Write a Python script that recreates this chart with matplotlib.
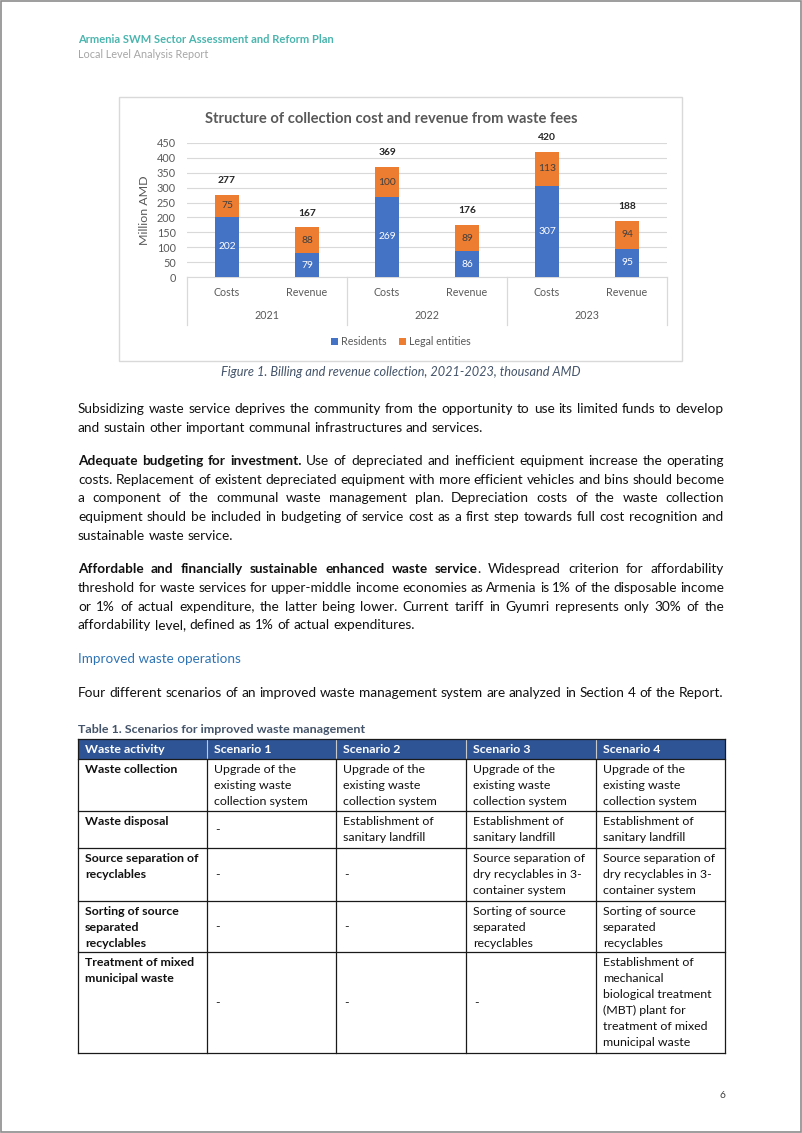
import numpy as np
import matplotlib
matplotlib.use('Agg')
import matplotlib.pyplot as plt
from matplotlib.patches import Rectangle

W, H = 802, 1133
plt.rcParams['font.family'] = ['Lato', 'DejaVu Sans']

# chart data
years = ['2021', '2022', '2023']
kinds = ['Costs', 'Revenue']
residents = [202, 79, 269, 86, 307, 95]
legal = [75, 88, 100, 89, 113, 94]
totals = [277, 167, 369, 176, 420, 188]
yticks = list(range(0, 451, 50))
chart_title = 'Structure of collection cost and revenue from waste fees'

# page text ("**" toggles bold)
header1 = 'Armenia SWM Sector Assessment and Reform Plan'
header2 = 'Local Level Analysis Report'
caption = 'Figure 1. Billing and revenue collection, 2021-2023, thousand AMD'
para1 = ['Subsidizing waste service deprives the community from the opportunity to use its limited funds to develop',
         'and sustain other important communal infrastructures and services.']
para2 = ['**Adequate budgeting for investment.** Use of depreciated and inefficient equipment increase the operating',
         'costs. Replacement of existent depreciated equipment with more efficient vehicles and bins should become',
         'a component of the communal waste management plan. Depreciation costs of the waste collection',
         'equipment should be included in budgeting of service cost as a first step towards full cost recognition and',
         'sustainable waste service.']
para3 = ['**Affordable and financially sustainable enhanced waste service**. Widespread criterion for affordability',
         'threshold for waste services for upper-middle income economies as Armenia is 1% of the disposable income',
         'or 1% of actual expenditure, the latter being lower. Current tariff in Gyumri represents only 30% of the',
         'affordability level, defined as 1% of actual expenditures.']
subhead = 'Improved waste operations'
intro = 'Four different scenarios of an improved waste management system are analyzed in Section 4 of the Report.'
table_title = 'Table 1. Scenarios for improved waste management'
table_head = ['Waste activity', 'Scenario 1', 'Scenario 2', 'Scenario 3', 'Scenario 4']
upgrade = ['Upgrade of the', 'existing waste', 'collection system']
landfill = ['Establishment of', 'sanitary landfill']
table_rows = [
    [['Waste collection'], upgrade, upgrade, upgrade, upgrade],
    [['Waste disposal'], ['-'], landfill, landfill, landfill],
    [['Source separation of', 'recyclables'], ['-'], ['-'],
     ['Source separation of', 'dry recyclables in 3-', 'container system'],
     ['Source separation of', 'dry recyclables in 3-', 'container system']],
    [['Sorting of source', 'separated', 'recyclables'], ['-'], ['-'],
     ['Sorting of source', 'separated', 'recyclables'],
     ['Sorting of source', 'separated', 'recyclables']],
    [['Treatment of mixed', 'municipal waste'], ['-'], ['-'], ['-'],
     ['Establishment of', 'mechanical', 'biological treatment', '(MBT) plant for',
      'treatment of mixed', 'municipal waste']],
]

fig = plt.figure(figsize=(W / 100, H / 100), dpi=100)
page = fig.add_axes([0, 0, 1, 1])
page.set_xlim(0, W)
page.set_ylim(H, 0)
page.axis('off')
renderer = fig.canvas.get_renderer()


def text_w(s, size, weight='normal', style='normal'):
    t = page.text(0, 0, s, fontsize=size, fontweight=weight, fontstyle=style)
    w = t.get_window_extent(renderer).width
    t.remove()
    return w


def fit(s, px, weight='normal', style='normal'):
    return 10 * px / text_w(s, 10, weight, style)


def parse(line):
    words, bold = [], False
    for word in line.split(' '):
        segs = []
        for i, p in enumerate(word.split('**')):
            if i > 0:
                bold = not bold
            if p:
                segs.append((p, bold))
        words.append(segs)
    return words


def draw_line(line, x0, x1, y, size, justify, color='#111111'):
    words = parse(line)
    widths = [[text_w(s, size, 'bold' if b else 'normal') for s, b in w] for w in words]
    space = text_w('x x', size) - text_w('xx', size)
    total = sum(sum(w) for w in widths)
    gap = space
    if justify and len(words) > 1:
        gap = max((x1 - x0 - total) / (len(words) - 1), 0.6 * space)
    x = x0
    for w, ws in zip(words, widths):
        for (s, b), sw in zip(w, ws):
            page.text(x, y, s, fontsize=size, fontweight='bold' if b else 'normal',
                      color=color, va='baseline', ha='left')
            x += sw
        x += gap


# page border and header
page.add_patch(Rectangle((1, 1), W - 2, H - 2, fill=False, ec='#8C8C8C', lw=1.2))
page.text(78, 43, header1, fontsize=fit(header1, 254, 'bold'), fontweight='bold',
          color='#4AB5AE', va='baseline')
page.text(78, 58, header2, fontsize=fit(header2, 130), color='#A6A6A6', va='baseline')

# chart
page.add_patch(Rectangle((119, 97), 563, 264, fill=False, ec='#D9D9D9', lw=1))
page.text(391.5, 123, chart_title, fontsize=fit(chart_title, 375, 'bold'), fontweight='bold',
          color='#595959', ha='center', va='baseline')

tick_size = fit('Revenue', 41)
ytick_size = fit('450', 19)
num_size = fit('202', 18)
ax = fig.add_axes([187 / W, 1 - 277 / H, 480 / W, 134 / H])
x = np.arange(len(residents))
ax.bar(x, residents, 0.31, color='#4472C4', label='Residents', zorder=3)
ax.bar(x, legal, 0.31, bottom=residents, color='#ED7D31', label='Legal entities', zorder=3)
ax.set_xlim(-0.5, 5.5)
ax.set_ylim(0, 450)
ax.set_yticks(yticks)
ax.grid(axis='y', color='#D9D9D9', lw=0.8, zorder=0)
for side in ['left', 'right', 'top']:
    ax.spines[side].set_visible(False)
ax.spines['bottom'].set_color('#D9D9D9')
ax.tick_params(axis='y', length=0, labelsize=ytick_size, colors='#595959', pad=8)
ax.set_xticks(x, kinds * len(years))
ax.tick_params(axis='x', length=0, labelsize=tick_size, colors='#595959', pad=7)
ax.set_facecolor('none')

for i in range(len(residents)):
    ax.text(x[i], residents[i] / 2, str(residents[i]), ha='center', va='center',
            color='white', fontsize=num_size, zorder=4)
    ax.text(x[i], residents[i] + legal[i] / 2, str(legal[i]), ha='center', va='center',
            color='#404040', fontsize=num_size, zorder=4)
    ax.annotate(str(totals[i]), (x[i], totals[i]), xytext=(0, 7), textcoords='offset points',
                ha='center', va='bottom', fontweight='bold', color='#262626',
                fontsize=num_size)

xt = ax.get_xaxis_transform()
for j, yr in enumerate(years):
    ax.text(2 * j + 0.5, -0.289, yr, transform=xt, ha='center', va='center',
            color='#595959', fontsize=tick_size)
for xb in [-0.5, 1.5, 3.5, 5.5]:
    ax.plot([xb, xb], [0, -0.358], transform=xt, color='#D9D9D9', lw=0.9, clip_on=False)

ax.text(-(187 - 145) / 480, 0.5, 'Million AMD', transform=ax.transAxes, rotation=90,
        ha='center', va='center', color='#595959', fontsize=fit('Million AMD', 70))
ax.legend(loc='center', bbox_to_anchor=(0.446, -0.485), ncol=2, frameon=False,
          handlelength=0.6, handleheight=0.6, handletextpad=0.3, columnspacing=1.2,
          fontsize=tick_size, labelcolor='#595959')

page.text(401, 376, caption, fontsize=fit(caption, 360, style='italic'), fontstyle='italic',
          color='#44546A', ha='center', va='baseline')

# body text
body = fit(intro, 640)
LS = 18.7
for top, lines in [(413, para1), (465, para2), (573.3, para3)]:
    for k, line in enumerate(lines):
        draw_line(line, 78, 724, top + k * LS, body, k < len(lines) - 1)
page.text(78, 662.7, subhead, fontsize=fit(subhead, 162), color='#2E74B5', va='baseline')
draw_line(intro, 78, 724, 696.7, body, False)

# table
page.text(78, 733.3, table_title, fontsize=fit(table_title, 287, 'bold'), fontweight='bold',
          color='#44546A', va='baseline')
col_x = [78, 207, 336, 466, 596, 725]
row_y = [739, 758.5, 811, 848, 901, 952, 1053]
tsize = fit('Source separation of', 113)
tbold = min(tsize, fit('Source separation of', 119, 'bold'))
page.add_patch(Rectangle((col_x[0], row_y[0]), col_x[-1] - col_x[0], row_y[1] - row_y[0],
                         fc='#2F5496', ec='none'))
for c, hd in enumerate(table_head):
    page.text(col_x[c] + 7, 753.3, hd, fontsize=tbold, fontweight='bold', color='white',
              va='baseline')
for xv in col_x[1:-1]:
    page.plot([xv, xv], [row_y[0], row_y[1]], color='#C9C9C9', lw=0.8)
for yv in row_y:
    page.plot([col_x[0], col_x[-1]], [yv, yv], color='#1a1a1a', lw=0.9)
for k, xv in enumerate(col_x):
    y0 = row_y[0] if k in (0, len(col_x) - 1) else row_y[1]
    page.plot([xv, xv], [y0, row_y[-1]], color='#1a1a1a', lw=0.9)

for r, row in enumerate(table_rows):
    top, bot = row_y[r + 1], row_y[r + 2]
    for c, cell in enumerate(row):
        bold = c == 0
        if cell == ['-']:
            page.text(col_x[c] + 8, (top + bot) / 2 + 4, '-', fontsize=tsize,
                      color='#111111', va='baseline')
            continue
        for k, ln in enumerate(cell):
            page.text(col_x[c] + 7, top + 14.3 + 16 * k, ln,
                      fontsize=tbold if bold else tsize,
                      fontweight='bold' if bold else 'normal',
                      color='#111111', va='baseline')

page.text(722, 1098, '6', fontsize=fit('6', 6), color='#404040', ha='center', va='baseline')

fig.savefig('out.png', dpi=100)
